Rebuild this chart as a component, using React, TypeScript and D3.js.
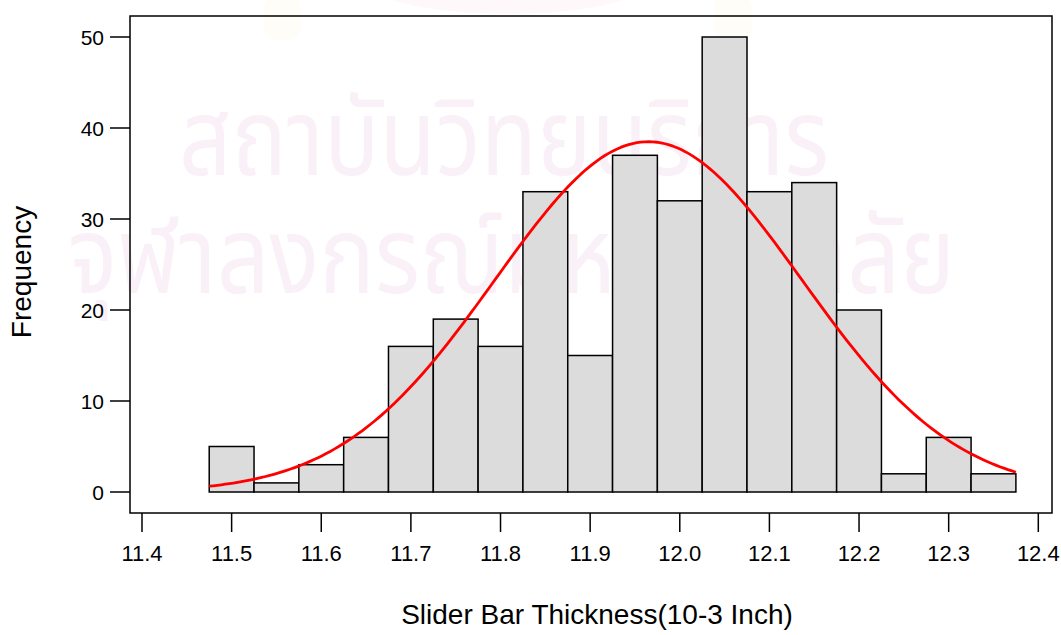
import React from "react";
import * as d3 from "d3";

// Histogram of slider bar thickness with a fitted normal curve
const binStarts = [11.475, 11.525, 11.575, 11.625, 11.675, 11.725, 11.775, 11.825, 11.875, 11.925, 11.975, 12.025, 12.075, 12.125, 12.175, 12.225, 12.275, 12.325];
const counts = [5, 1, 3, 6, 16, 19, 16, 33, 15, 37, 32, 50, 33, 34, 20, 2, 6, 2];
const binWidth = 0.05;
const xTicks = [11.4, 11.5, 11.6, 11.7, 11.8, 11.9, 12.0, 12.1, 12.2, 12.3, 12.4];
const yTicks = [0, 10, 20, 30, 40, 50];
const fitMean = 11.965;
const fitSd = 0.171;
const watermarkLines = ["สถาบันวิทยบริการ", "จุฬาลงกรณ์มหาวิทยาลัย"];

const W = 1061;
const H = 635;
const frame = { left: 130, top: 16, right: 1052, bottom: 513 };

export default function App() {
  const x = d3.scaleLinear().domain([11.4, 12.4]).range([142, 1038.3]);
  const y = d3.scaleLinear().domain([0, 50]).range([492, 37]);
  const total = d3.sum(counts);
  const pdf = (v: number) =>
    (total * binWidth) / (fitSd * Math.sqrt(2 * Math.PI)) *
    Math.exp(-((v - fitMean) ** 2) / (2 * fitSd * fitSd));
  const lo = binStarts[0];
  const hi = binStarts[binStarts.length - 1] + binWidth;
  const curvePts = d3.range(0, 201).map((i) => {
    const v = lo + (i / 200) * (hi - lo);
    return [v, pdf(v)] as [number, number];
  });
  const line = d3.line<[number, number]>().x((d) => x(d[0])).y((d) => y(d[1]));
  const font = "Arial, 'Liberation Sans', sans-serif";
  const wm = "#f9f1f7";
  return (
    <svg width={W} height={H} style={{ position: "absolute", left: 0, top: 0, background: "#fff" }}>
      {/* faint emblem behind the plot */}
      <ellipse cx={508} cy={-22} rx={146} ry={36} fill="#fff8fa" />
      <rect x={264} y={-6} width={37} height={46} rx={14} fill="#fffdf7" />
      <rect x={714} y={-6} width={38} height={46} rx={14} fill="#fffdf7" />
      <g fill={wm} fontFamily="'Noto Sans Thai', 'Noto Sans', 'DejaVu Sans', sans-serif">
        <text x={179} y={175} fontSize={108} textLength={650} lengthAdjust="spacingAndGlyphs">{watermarkLines[0]}</text>
        <text x={68} y={293} fontSize={108} textLength={887} lengthAdjust="spacingAndGlyphs">{watermarkLines[1]}</text>
      </g>
      <rect x={frame.left} y={frame.top} width={frame.right - frame.left} height={frame.bottom - frame.top}
        fill="none" stroke="#000" strokeWidth={1.5} />
      {counts.map((c, i) => (
        <rect key={i} x={x(binStarts[i])} y={y(c)} width={x(binStarts[i] + binWidth) - x(binStarts[i])}
          height={y(0) - y(c)} fill="#dcdcdc" stroke="#000" strokeWidth={1.5} />
      ))}
      <path d={line(curvePts) || ""} fill="none" stroke="#ff0000" strokeWidth={2.8} strokeLinejoin="round" />
      {yTicks.map((t) => (
        <g key={t}>
          <line x1={110} x2={frame.left} y1={y(t)} y2={y(t)} stroke="#000" strokeWidth={1.5} />
          <text x={104} y={y(t) + 7.5} fontSize={21} textAnchor="end" fontFamily={font}>{t}</text>
        </g>
      ))}
      {xTicks.map((t) => (
        <g key={t}>
          <line x1={x(t)} x2={x(t)} y1={frame.bottom} y2={532} stroke="#000" strokeWidth={1.5} />
          <text x={x(t)} y={561} fontSize={22} textAnchor="middle" fontFamily={font}>{t.toFixed(1)}</text>
        </g>
      ))}
      <text transform="translate(31,272) rotate(-90)" fontSize={28} textAnchor="middle" fontFamily={font}>Frequency</text>
      <text x={597} y={624} fontSize={28} textAnchor="middle" fontFamily={font}>Slider Bar Thickness(10-3 Inch)</text>
    </svg>
  );
}
